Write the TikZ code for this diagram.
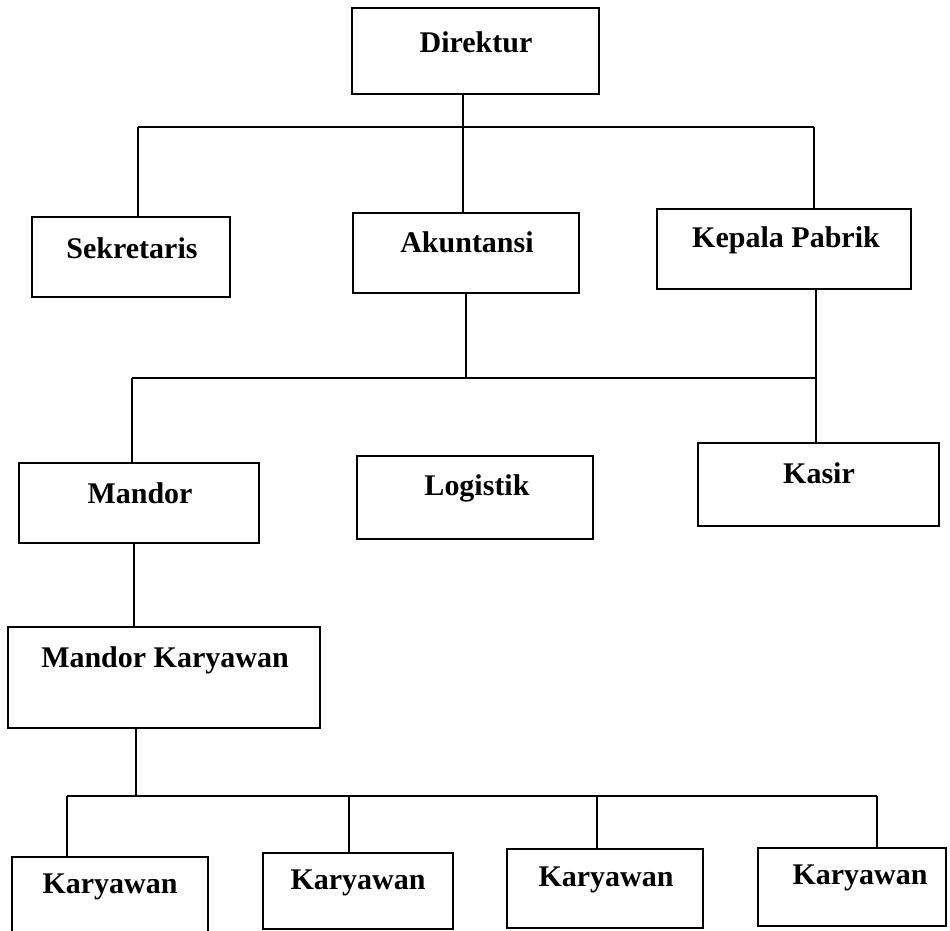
\documentclass[tikz,border=0pt]{standalone}
\usepackage{fontspec}
\setmainfont{Liberation Serif}
\usetikzlibrary{fit}
\tikzset{
  box/.style={draw=black, line width=1.6pt, inner sep=0pt, fill=none},
  lbl/.style={font=\bfseries\fontsize{22.5pt}{26pt}\selectfont, inner sep=0pt, anchor=center},
  conn/.style={draw=black, line width=1.6pt}
}
\begin{document}
\begin{tikzpicture}[x=0.75pt,y=-0.75pt]
\useasboundingbox (0,0) rectangle (950,931);
\clip (0,0) rectangle (950,931);
\fill[white] (0,0) rectangle (950,931);

% boxes
\node[box, fit={(352,8) (599,94)}] (dir) {};
\node[box, fit={(32,217) (230,297)}] (sek) {};
\node[box, fit={(353,213) (579,293)}] (akt) {};
\node[box, fit={(657,209) (911,289)}] (kp) {};
\node[box, fit={(19,463) (259,543)}] (man) {};
\node[box, fit={(357,456) (593,539)}] (log) {};
\node[box, fit={(698,443) (939,526)}] (kas) {};
\node[box, fit={(8,627) (320,728)}] (mk) {};
\node[box, fit={(12,857) (208,950)}] (k1) {};
\node[box, fit={(263,853) (453,929)}] (k2) {};
\node[box, fit={(507,849) (703,928)}] (k3) {};
\node[box, fit={(758,848) (946,926)}] (k4) {};

% labels
\node[lbl] (dirt) at (476,42) {Direktur};
\node[lbl] (sekt) at (132,248) {Sekretaris};
\node[lbl] (aktt) at (467,242) {Akuntansi};
\node[lbl] (kpt) at (786,240) {Kepala Pabrik};
\node[lbl] (mant) at (140,493) {Mandor};
\node[lbl] (logt) at (477,488) {Logistik};
\node[lbl] (kast) at (819,473) {Kasir};
\node[lbl] (mkt) at (165,660) {Mandor Karyawan};
\node[lbl] (k1t) at (110,887) {Karyawan};
\node[lbl] (k2t) at (358,883) {Karyawan};
\node[lbl] (k3t) at (606,880) {Karyawan};
\node[lbl] (k4t) at (860,878) {Karyawan};

% bus coordinates
\coordinate (b1L) at (138,127);
\coordinate (b1M) at (463,127);
\coordinate (b1R) at (814,127);
\coordinate (b2L) at (132,378);
\coordinate (b2M) at (466,378);
\coordinate (b2R) at (816,378);
\coordinate (b3) at (136,796);
\coordinate (b3L) at (67,796);
\coordinate (b3a) at (349,796);
\coordinate (b3b) at (597,796);
\coordinate (b3R) at (877,796);
\coordinate (m1) at (134,600);

% connectors level 1
\draw[conn] (b1M |- dir.south) -- (b1M);
\draw[conn] (b1L) -- (b1R);
\draw[conn] (b1L) -- (b1L |- sek.north);
\draw[conn] (b1M) -- (b1M |- akt.north);
\draw[conn] (b1R) -- (b1R |- kp.north);

% connectors level 2
\draw[conn] (b2M |- akt.south) -- (b2M);
\draw[conn] (b2L) -- (b2R);
\draw[conn] (b2L) -- (b2L |- man.north);
\draw[conn] (b2R |- kp.south) -- (b2R |- kas.north);

% Mandor -> Mandor Karyawan
\draw[conn] (m1 |- man.south) -- (m1 |- mk.north);

% connectors level 3
\draw[conn] (b3 |- mk.south) -- (b3);
\draw[conn] (b3L) -- (b3R);
\draw[conn] (b3L) -- (b3L |- k1.north);
\draw[conn] (b3a) -- (b3a |- k2.north);
\draw[conn] (b3b) -- (b3b |- k3.north);
\draw[conn] (b3R) -- (b3R |- k4.north);
\end{tikzpicture}
\end{document}
